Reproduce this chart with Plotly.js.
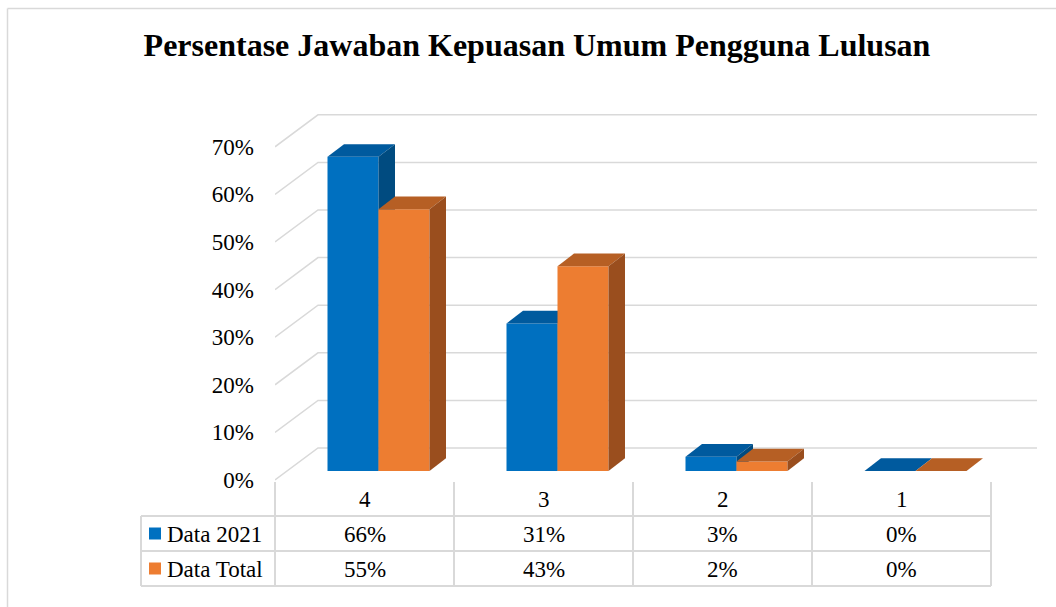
<!DOCTYPE html>
<html><head><meta charset="utf-8">
<script src="https://cdn.plot.ly/plotly-3.0.1.min.js"></script>
<style>html,body{margin:0;padding:0;background:#fff}#chart{width:1056px;height:607px}</style>
</head><body><div id="chart"></div>
<script>
// ---- data ----
const chartTitle = 'Persentase Jawaban Kepuasan Umum Pengguna Lulusan';
const categories = ['4', '3', '2', '1'];
const seriesNames = ['Data 2021', 'Data Total'];
const data2021 = [0.66, 0.31, 0.03, 0.00];
const dataTotal = [0.55, 0.43, 0.02, 0.00];
const yTicks = [0, 0.1, 0.2, 0.3, 0.4, 0.5, 0.6, 0.7];

// ---- geometry / style (pixels) ----
const W = 1056, H = 607;
const L = 275, R = 1040, T = 100, B = 485;
const catPx = 179, valPx = 476, zeroPx = 480;
const backDxPx = 43, backDyPx = 32, gridEndPx = 1037;
const barShiftXPx = 14, barShiftYPx = 9, barWPx = 51;
const depthXPx = 16.5, depthYPx = 12.7;
const FONT = 'Liberation Serif, Times New Roman, serif';
const GRID = '#d9d9d9';
const colors = {
  front: ['#0070C0', '#ED7D31'],
  top: ['#005A9E', '#B65F24'],
  side: ['#004B80', '#9A4E1E']
};

const xr = [-0.5, -0.5 + (R - L) / catPx];
const yr = [(zeroPx - B) / valPx, (zeroPx - T) / valPx];
const px2x = p => (p - L) / catPx - 0.5;
const pxX = p => (p - L) / (R - L);
const pxY = p => (B - p) / (B - T);

const backDx = backDxPx / catPx, backDy = backDyPx / valPx;
const barBase = barShiftYPx / valPx;
const barW = barWPx / catPx, barShift = barShiftXPx / catPx;
const dX = depthXPx / catPx, dY = depthYPx / valPx;
const xIdx = categories.map((c, i) => i);
const allSeries = [data2021, dataTotal];

const traces = [];
allSeries.forEach((vals, s) => {
  const xa = s === 0 ? 'x' : 'x2', ya = s === 0 ? 'y' : 'y2';
  const off = s === 0 ? barShift - barW : barShift;
  traces.push({
    type: 'bar', x: xIdx, y: vals, base: xIdx.map(() => barBase),
    width: barW, offset: off, xaxis: xa, yaxis: ya, name: seriesNames[s],
    marker: {color: colors.front[s], line: {width: 0}}, showlegend: false
  });
  vals.forEach((v, i) => {
    const x0 = i + off, x1 = x0 + barW, b = barBase, t = barBase + v;
    traces.push({
      type: 'scatter', mode: 'lines', xaxis: xa, yaxis: ya, showlegend: false,
      x: [x0, x1, x1 + dX, x0 + dX, x0], y: [t, t, t + dY, t + dY, t],
      fill: 'toself', fillcolor: colors.top[s], line: {width: 0, color: colors.top[s]}
    });
    traces.push({
      type: 'scatter', mode: 'lines', xaxis: xa, yaxis: ya, showlegend: false,
      x: [x1, x1, x1 + dX, x1 + dX, x1], y: [b, t, t + dY, b + dY, b],
      fill: 'toself', fillcolor: colors.side[s], line: {width: 0, color: colors.side[s]}
    });
  });
});

const shapes = [];
// back-wall gridlines with diagonal to front
const gx0 = -0.5, gx1 = -0.5 + backDx, gx2 = px2x(gridEndPx);
yTicks.forEach(v => {
  shapes.push({type: 'path', xref: 'x', yref: 'y', layer: 'below',
    path: `M ${gx0},${v} L ${gx1},${v + backDy} L ${gx2},${v + backDy}`,
    line: {color: GRID, width: 1.5}});
});
// data table
const tTop = 482, r1 = 516, r2 = 551, r3 = 586, labL = 141;
const colEdges = categories.concat(['']).map((c, i) => L + catPx * i);
colEdges.forEach(p => shapes.push({type: 'line', xref: 'paper', yref: 'paper',
  x0: pxX(p), x1: pxX(p), y0: pxY(tTop), y1: pxY(r3), line: {color: GRID, width: 2}}));
shapes.push({type: 'line', xref: 'paper', yref: 'paper', x0: pxX(labL), x1: pxX(labL),
  y0: pxY(r1), y1: pxY(r3), line: {color: GRID, width: 2}});
[r1, r2, r3].forEach(p => shapes.push({type: 'line', xref: 'paper', yref: 'paper',
  x0: pxX(labL), x1: pxX(colEdges[colEdges.length - 1]), y0: pxY(p), y1: pxY(p),
  line: {color: GRID, width: 2}}));
// legend keys
const rowMid = [(r1 + r2) / 2, (r2 + r3) / 2];
rowMid.forEach((m, s) => shapes.push({type: 'rect', xref: 'paper', yref: 'paper',
  x0: pxX(149), x1: pxX(161), y0: pxY(m - 6), y1: pxY(m + 6),
  fillcolor: colors.front[s], line: {width: 0}}));
// outer chart border (top & left)
shapes.push({type: 'line', xref: 'paper', yref: 'paper', x0: pxX(7.5), x1: pxX(W),
  y0: pxY(8.5), y1: pxY(8.5), line: {color: GRID, width: 1.5}});
shapes.push({type: 'line', xref: 'paper', yref: 'paper', x0: pxX(7.5), x1: pxX(7.5),
  y0: pxY(8.5), y1: pxY(H), line: {color: GRID, width: 1.5}});

const annotations = [];
const txtFont = {family: FONT, size: 23, color: '#000'};
// category header row
categories.forEach((c, i) => annotations.push({xref: 'x', yref: 'paper', x: i,
  y: pxY(500), xanchor: 'center', yanchor: 'middle', text: c, showarrow: false,
  font: txtFont}));
seriesNames.forEach((n, s) => {
  annotations.push({xref: 'paper', yref: 'paper', x: pxX(165), y: pxY(rowMid[s] + 1),
    xanchor: 'left', yanchor: 'middle', text: n, showarrow: false, font: txtFont});
  allSeries[s].forEach((v, i) => annotations.push({xref: 'x', yref: 'paper', x: i,
    y: pxY(rowMid[s] + 1), xanchor: 'center', yanchor: 'middle',
    text: Math.round(v * 100) + '%', showarrow: false, font: txtFont}));
});

const layout = {
  width: W, height: H,
  margin: {l: L, r: W - R, t: T, b: H - B, pad: 0},
  paper_bgcolor: '#fff', plot_bgcolor: 'rgba(0,0,0,0)',
  title: {text: '<b>' + chartTitle + '</b>', xref: 'container', yref: 'container',
    x: 537 / W, y: 1 - 45 / H, xanchor: 'center', yanchor: 'middle',
    font: {family: FONT, size: 32, color: '#000'}},
  showlegend: false, hovermode: false, barmode: 'overlay',
  xaxis: {range: xr, tickvals: xIdx, showticklabels: false, showgrid: false,
    zeroline: false, showline: false, ticks: '', fixedrange: true},
  yaxis: {range: yr, tickvals: yTicks, tickformat: '.0%', showgrid: false,
    zeroline: false, showline: false, ticks: '', ticklabelstandoff: 20,
    tickfont: txtFont, fixedrange: true},
  xaxis2: {overlaying: 'x', range: xr, visible: false, fixedrange: true},
  yaxis2: {overlaying: 'y', range: yr, visible: false, fixedrange: true},
  shapes: shapes, annotations: annotations
};
Plotly.newPlot('chart', traces, layout, {displayModeBar: false, staticPlot: true});
</script></body></html>
